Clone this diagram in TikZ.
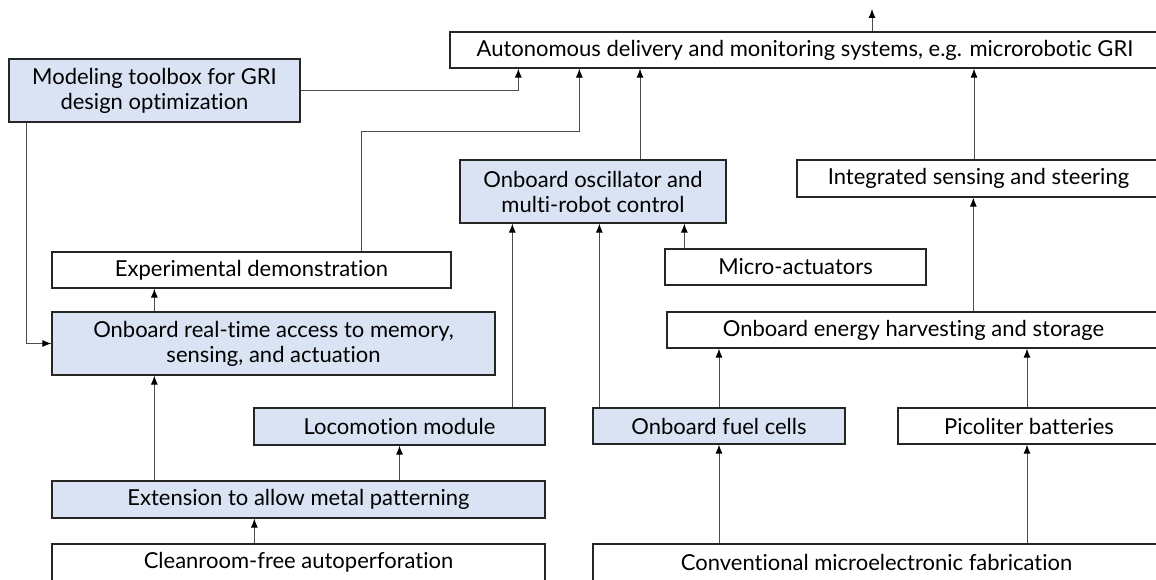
\documentclass[tikz,border=0pt]{standalone}
\usepackage{fontspec}
\setmainfont{Lato}[Ligatures={NoCommon}]
\usetikzlibrary{arrows.meta,positioning,calc}
\definecolor{MyFill}{HTML}{DAE3F3}
\definecolor{MyLine}{HTML}{262626}
\definecolor{MyConn}{HTML}{4D4D4D}

\begin{document}
\begin{tikzpicture}[x=1pt, y=1pt, every node/.style={font=\fontsize{22}{25}\selectfont, text=black},
		box/.style={draw=MyLine, line width=1.3pt, fill=white, inner sep=0pt, align=center},
		bluebox/.style={box, fill=MyFill},
		conn/.style={draw=MyConn, line width=0.9pt, -{Latex[length=9pt, width=7pt, color=black]}}]
			\clip (0,0) rectangle (1156,580);
			
			% top row
			\node[box, minimum width=710, minimum height=36] (auto) at (805,530) {Autonomous delivery and monitoring systems, e.g. microrobotic GRI};
			\node[bluebox, minimum width=291, minimum height=63] (model) at (154.5,489.5) {Modeling toolbox for GRI\\design optimization};
			\coordinate (out) at (872,571);
			%
			\node[bluebox, minimum width=266, minimum height=63] (osc) at (593,388.5) {Onboard oscillator and\\multi-robot control};
			\node[box, minimum width=363, minimum height=37] (steer) at (978.5,401.5) {Integrated sensing and steering};
			%
			\node[box, minimum width=399, minimum height=36] (exp) at (251.5,310) {Experimental demonstration};
			\node[box, minimum width=261, minimum height=36] (act) at (795.5,313) {Micro-actuators};
			%
			\node[bluebox, minimum width=443, minimum height=63] (mem) at (273.5,236.5) {Onboard real-time access to memory,\\sensing, and actuation};
			\node[box, minimum width=493, minimum height=36] (energy) at (913.5,250) {Onboard energy harvesting and storage};
			%
			\node[bluebox, minimum width=291, minimum height=37] (loco) at (399.5,153.5) {Locomotion module};
			\node[bluebox, minimum width=252, minimum height=36] (fuel) at (719,154) {Onboard fuel cells};
			\node[box, minimum width=262, minimum height=36] (pico) at (1029,154) {Picoliter batteries};
			%
			\node[bluebox, minimum width=493, minimum height=37] (ext) at (298.5,80.5) {Extension to allow metal patterning};
			\node[box, minimum width=493, minimum height=37] (clean) at (298.5,17.5) {Cleanroom-free autoperforation};
			\node[box, minimum width=567, minimum height=37] (conv) at (876.5,17.5) {Conventional microelectronic fabrication};
			
			% connectors into the top box
			\draw[conn] (auto.north -| out) -- (out);
			\draw[conn] (model.east) -| ([xshift=69]auto.south west);
			\draw[conn] ([xshift=310]exp.north west) -- ++(0,120) -| ([xshift=130]auto.south west);
			\draw[conn] ([xshift=47]osc.north) -- ([xshift=47]osc.north |- auto.south);
			\draw[conn] ([xshift=-4.5]steer.north) -- ([xshift=-4.5]steer.north |- auto.south);
			%
			\draw[conn] ([xshift=18]model.south west) |- (mem.west);
			\draw[conn] ([xshift=103]mem.north west) -- ([xshift=103]exp.south west);
			\draw[conn] ([xshift=20]act.north west) -- ([xshift=20]act.north west |- osc.south);
			\draw[conn] ([xshift=259]loco.north west) -- ([xshift=259]loco.north west |- osc.south);
			\draw[conn] ([xshift=7]fuel.north west) -- ([xshift=7]fuel.north west |- osc.south);
			\draw[conn] (fuel.north) -- (fuel.north |- energy.south);
			\draw[conn] ([xshift=307]energy.north west) -- ([xshift=307]energy.north west |- steer.south);
			\draw[conn] ([xshift=-2]pico.north) -- ([xshift=-2]pico.north |- energy.south);
			%
			\draw[conn] ([xshift=103]ext.north west) -- ([xshift=103]ext.north west |- mem.south);
			\draw[conn] (ext.north -| loco.south) -- (loco.south);
			\draw[conn] ([xshift=203]clean.north west) -- ([xshift=203]clean.north west |- ext.south);
			\draw[conn] (conv.north -| fuel.south) -- (fuel.south);
			\draw[conn] ([xshift=-2]conv.north -| pico.south) -- ([xshift=-2]pico.south);
		\end{tikzpicture}
\end{document}
